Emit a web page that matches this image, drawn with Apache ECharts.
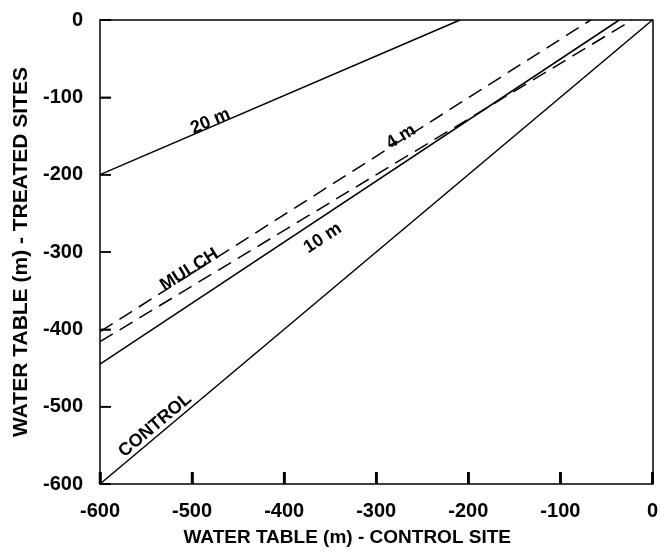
<!DOCTYPE html>
<html>
<head>
<meta charset="utf-8">
<script src="https://cdn.jsdelivr.net/npm/echarts@6/dist/echarts.min.js"></script>
<style>html,body{margin:0;padding:0;background:#fff;}#chart{width:661px;height:559px;background:#fff;}</style>
</head>
<body>
<div id="chart"></div>
<script>
// Water table at control site (x) vs treated sites (y), metres
var controlLine = [[-600, -600], [0, 0]];
var line20m = [[-600, -200], [-209, 0]];
var line10m = [[-600, -445], [-36, 0]];
var line4m = [[-600, -403], [-67, 0]];
var lineMulch = [[-600, -416], [-22, 0]];
var xTicks = [-600, -500, -400, -300, -200, -100, 0];
var yTicks = [0, -100, -200, -300, -400, -500, -600];

// in-plot labels (text, data coordinate, rotation)
var annotations = [
  {text: '20 m', coord: [-480, -131], rotate: 23},
  {text: '4 m', coord: [-273, -151], rotate: 32},
  {text: 'MULCH', coord: [-503, -323], rotate: 32},
  {text: '10 m', coord: [-358, -282], rotate: 33},
  {text: 'CONTROL', coord: [-540, -524], rotate: 40}
];

var FONT = '"Liberation Sans", Arial, Helvetica, sans-serif';
var chart = echarts.init(document.getElementById('chart'));

var xMin = xTicks[0], xMax = xTicks[xTicks.length - 1];
var yMin = yTicks[yTicks.length - 1], yMax = yTicks[0];

function lineSeries(data, dashed, extra) {
  var s = {
    type: 'line',
    data: data,
    symbol: 'none',
    silent: true,
    lineStyle: {color: '#000', width: 1.5, type: dashed ? [15, 8] : 'solid'}
  };
  if (extra) s.markPoint = extra;
  return s;
}

var markLabels = {
  symbol: 'circle',
  symbolSize: 0,
  silent: true,
  data: annotations.map(function (a) {
    return {
      coord: a.coord,
      label: {
        show: true,
        position: 'inside',
        formatter: a.text,
        rotate: a.rotate,
        color: '#000',
        fontFamily: FONT,
        fontWeight: 'bold',
        fontSize: 18
      }
    };
  })
};

function frameAxis(pos, min, max) {
  return {
    type: 'value', position: pos, min: min, max: max, interval: 100,
    axisLine: {show: true, onZero: false, lineStyle: {color: '#000', width: 1.5}},
    axisTick: {show: false}, axisLabel: {show: false}, splitLine: {show: false}
  };
}

chart.setOption({
  animation: false,
  grid: {left: 100, right: 6, top: 20, bottom: 75},
  xAxis: [{
    type: 'value', min: xMin, max: xMax, interval: 100,
    name: 'WATER TABLE (m) - CONTROL SITE',
    nameLocation: 'middle', nameGap: 44,
    nameTextStyle: {color: '#000', fontFamily: FONT, fontWeight: 'bold', fontSize: 19, padding: [0, 58, 0, 0]},
    axisLine: {show: true, onZero: false, lineStyle: {color: '#000', width: 1.5}},
    axisTick: {show: true, inside: true, length: 12, lineStyle: {color: '#000', width: 2.5}},
    splitLine: {show: false},
    axisLabel: {color: '#000', fontFamily: FONT, fontWeight: 'bold', fontSize: 20, margin: 17}
  }, frameAxis('top', xMin, xMax)],
  yAxis: [{
    type: 'value', min: yMin, max: yMax, interval: 100,
    name: 'WATER TABLE (m) - TREATED SITES',
    nameLocation: 'middle', nameGap: 68,
    nameTextStyle: {color: '#000', fontFamily: FONT, fontWeight: 'bold', fontSize: 21},
    axisLine: {show: true, onZero: false, lineStyle: {color: '#000', width: 1.5}},
    axisTick: {show: true, inside: true, length: 11, lineStyle: {color: '#000', width: 1.5}},
    splitLine: {show: false},
    axisLabel: {color: '#000', fontFamily: FONT, fontWeight: 'bold', fontSize: 20, margin: 17}
  }, frameAxis('right', yMin, yMax)],
  series: [
    lineSeries(controlLine, false, markLabels),
    lineSeries(line20m, false),
    lineSeries(line10m, false),
    lineSeries(line4m, true),
    lineSeries(lineMulch, true)
  ]
});

// inward tick marks as graphic lines, positioned through the axis scales
var tickGraphics = [];
xTicks.forEach(function (v) {
  var p = chart.convertToPixel({xAxisIndex: 0, yAxisIndex: 0}, [v, yMin]);
  tickGraphics.push({type: 'line', z: 100, silent: true,
    shape: {x1: p[0], y1: p[1], x2: p[0], y2: p[1] - 12},
    style: {stroke: '#000', lineWidth: 2.5}});
});
yTicks.forEach(function (v) {
  var p = chart.convertToPixel({xAxisIndex: 0, yAxisIndex: 0}, [xMin, v]);
  tickGraphics.push({type: 'line', z: 100, silent: true,
    shape: {x1: p[0], y1: p[1], x2: p[0] + 11, y2: p[1]},
    style: {stroke: '#000', lineWidth: 1.5}});
});
chart.setOption({graphic: tickGraphics});
</script>
</body>
</html>
